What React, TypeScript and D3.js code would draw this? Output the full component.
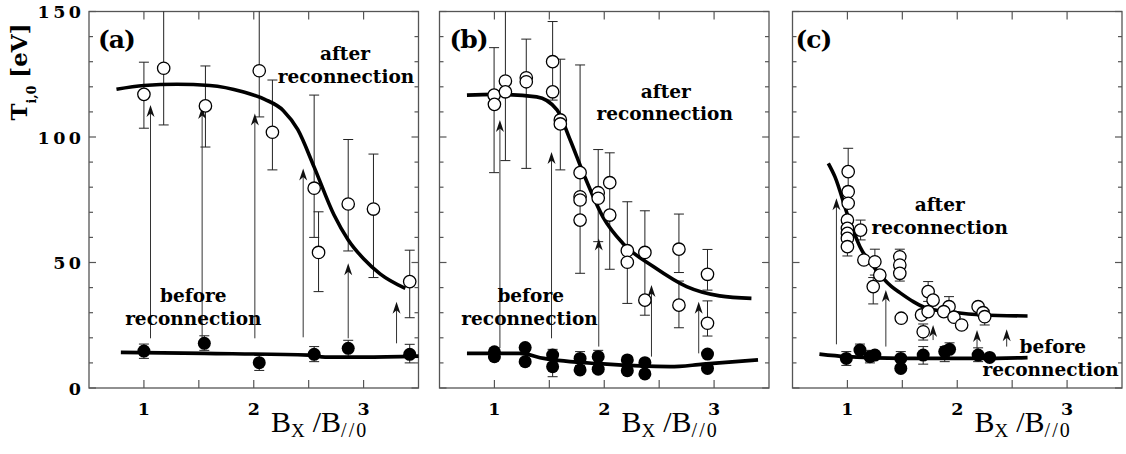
import React, { useEffect, useRef } from 'react';
import * as d3 from 'd3';

// [x, T, errLo, errHi] -- error bounds optional
const aAfter = [
  [1.0, 117, 103.5, 129.8],
  [1.18, 127.4, 104.8, 150],
  [1.56, 112.4, 96, 128.3],
  [2.05, 126.4, 108, 150],
  [2.17, 101.9, 86.9, 122.7],
  [2.55, 79.6, 60, 116.7],
  [2.59, 54, 38.4, 70.2],
  [2.86, 73.3, 54.6, 99],
  [3.09, 71.3, 44, 93.2],
  [3.42, 42.4, 28, 54.9],
];
const aBefore = [
  [1.0, 14.7, 11.8, 17.5],
  [1.55, 17.8, 15, 20.8],
  [2.05, 10.1, 7, 13],
  [2.55, 13.4, 10.5, 16.5],
  [2.86, 15.8, 12.5, 19],
  [3.42, 13.4, 10, 17.4],
];
// [x, from, to]
const aArrows = [
  [1.06, 19.8, 112.7],
  [1.53, 19.8, 112],
  [2.01, 19.8, 109.4],
  [2.45, 20.2, 87.5],
  [2.86, 19.8, 49.7],
  [3.3, 17.8, 34.4],
];
const aAfterFit = [
  [0.75, 119], [1.0, 120.5], [1.3, 121], [1.6, 120.5], [1.9, 118], [2.1, 115],
  [2.27, 110.5], [2.4, 103], [2.55, 88], [2.73, 69], [2.86, 59], [3.0, 51.5],
  [3.15, 45.5], [3.38, 39.7],
];
const aBeforeFit = [[0.79, 14.2], [1.55, 13.8], [2.5, 13.1], [2.65, 12.3], [3.0, 12.3], [3.5, 12.7]];

const bAfter = [
  [0.997, 116.7, 85.8, 135.6],
  [1.0, 113],
  [1.1, 122.3, 90.6, 150],
  [1.1, 118],
  [1.29, 123.6, 87.5, 139],
  [1.29, 122],
  [1.53, 130, 114.7, 146],
  [1.53, 118],
  [1.6, 106.8, 86.9, 131],
  [1.6, 105.2],
  [1.78, 85.8, 45.7, 128.7],
  [1.78, 76.2],
  [1.78, 74.9],
  [1.78, 66.9],
  [1.945, 77.8, 58.3, 95],
  [1.945, 75.6],
  [2.05, 81.8],
  [2.05, 68.9, 47.3, 93.7],
  [2.21, 54.7, 33.7, 74.2],
  [2.21, 50.1],
  [2.37, 54, 29, 70.6],
  [2.37, 35],
  [2.68, 55.3, 46, 69.3],
  [2.68, 33, 24, 42.6],
  [2.94, 45.3, 39, 55.2],
  [2.94, 25.8, 20.7, 34.7],
];
const bBefore = [
  [1.0, 14.4], [1.0, 12.5], [1.28, 16.1], [1.28, 10.5],
  [1.53, 13.1, 10, 15.4], [1.53, 8.5, 4.5, 11],
  [1.78, 11.8, 9, 14.5], [1.78, 7.2], [1.945, 12.5, 10, 15], [1.945, 7.5],
  [2.21, 11.2], [2.21, 6.9], [2.37, 10.1], [2.37, 5.6], [2.94, 13.5], [2.94, 7.8],
];
const bArrows = [
  [1.05, 15.9, 106.8],
  [1.52, 19.8, 94],
  [1.95, 16.5, 59.6],
  [2.43, 12.5, 41],
  [2.86, 13.8, 34.4],
];
const bAfterFit = [
  [0.75, 116.7], [1.0, 117], [1.385, 116], [1.57, 110.8], [1.69, 98.8], [1.81, 85.5],
  [1.99, 68], [2.17, 57.6], [2.45, 48.3], [2.75, 40.4], [3.05, 36.7], [3.34, 35.7],
];
const bBeforeFit = [[0.75, 13.8], [1.23, 13.8], [1.45, 11.8], [1.99, 9.6], [2.6, 8.5], [2.9, 9.5], [3.4, 11.2]];

const cAfter = [
  [1.007, 86.2, 80, 95.5],
  [1.007, 78.2],
  [1.007, 73.6],
  [1.0, 66.9],
  [1.0, 63.6],
  [1.0, 61.6],
  [1.0, 59.6],
  [1.0, 56.3, 52.6, 60],
  [1.12, 62.9, 59, 66.9],
  [1.15, 51],
  [1.25, 50.3, 45, 55.3],
  [1.295, 45],
  [1.235, 40.4, 33.5, 44],
  [1.477, 52.3, 49, 55.3],
  [1.477, 49],
  [1.477, 45.7, 42.6, 49],
  [1.735, 38.4, 34.5, 42.4],
  [1.78, 35],
  [1.675, 29.1],
  [1.735, 30.4],
  [1.49, 27.8],
  [1.69, 22.4, 19.1, 25.5],
  [1.925, 32.4, 28.5, 36.4],
  [1.877, 30.4],
  [1.97, 28.2],
  [2.04, 25.1],
  [2.19, 32.4],
  [2.235, 30],
  [2.25, 28.4, 25.1, 31],
];
const cBefore = [
  [0.99, 11.8, 9, 14.5], [1.114, 15.1, 12, 17.5], [1.205, 12.5, 10, 15], [1.25, 13.1],
  [1.486, 11.8, 9, 14.5], [1.486, 7.8], [1.69, 13.1, 9.5, 16.5], [1.886, 14.5, 10.5, 16.5],
  [1.93, 15.4, 12, 18], [2.19, 13.1, 10.5, 16], [2.295, 12.2],
];
const cArrows = [
  [0.9, 17.4, 75.6],
  [1.35, 16.5, 39],
  [1.78, 19.1, 25.1],
  [2.18, 15.1, 23.1],
  [2.45, 16.5, 23.4],
];
const cAfterFit = [
  [0.826, 89.5], [0.886, 84.2], [1.007, 68.2], [1.114, 56.3], [1.25, 47.7], [1.4, 40.5],
  [1.477, 38], [1.6, 34.4], [1.72, 31.8], [1.93, 30.4], [2.23, 29.1], [2.64, 28.7],
];
const cBeforeFit = [[0.745, 13.5], [0.99, 12.5], [1.5, 11.8], [2.2, 11.8], [2.64, 12.1]];

const yMajor = [0, 50, 100, 150];
const yMinor = d3.range(0, 151, 10);
const xTicks = [1, 1.5, 2, 2.5, 3];
const xLabels = [1, 2, 3];

const panels = [
  {
    tag: '(a)', tagDx: 9, after: aAfter, before: aBefore, arrows: aArrows,
    afterFit: aAfterFit, beforeFit: aBeforeFit,
    labels: [
      { t: 'after', x: 2.83, y: 130.7 }, { t: 'reconnection', x: 2.84, y: 121.4 },
      { t: 'before', x: 1.45, y: 34.4 }, { t: 'reconnection', x: 1.45, y: 25.1 },
    ],
  },
  {
    tag: '(b)', tagDx: 10, after: bAfter, before: bBefore, arrows: bArrows,
    afterFit: bAfterFit, beforeFit: bBeforeFit,
    labels: [
      { t: 'after', x: 2.56, y: 115.4 }, { t: 'reconnection', x: 2.55, y: 106.8 },
      { t: 'before', x: 1.33, y: 34.4 }, { t: 'reconnection', x: 1.32, y: 25.1 },
    ],
  },
  {
    tag: '(c)', tagDx: 3, after: cAfter, before: cBefore, arrows: cArrows,
    afterFit: cAfterFit, beforeFit: cBeforeFit,
    labels: [
      { t: 'after', x: 1.84, y: 70.5 }, { t: 'reconnection', x: 1.84, y: 61.3 },
      { t: 'before', x: 2.87, y: 14.1 }, { t: 'reconnection', x: 2.85, y: 4.8 },
    ],
  },
];

const W = 1126;
const H = 454;
const TOP = 11.5;
const BOTTOM = 388;
const PANEL_LEFT = [89, 439.5, 792.5];
const PANEL_W = 329.5;
const SERIF = "'DejaVu Serif', serif";

export default function App() {
  const svgRef = useRef(null);

  useEffect(() => {
    const svg = d3.select(svgRef.current);
    svg.selectAll('*').remove();

    const y = d3.scaleLinear().domain([0, 150]).range([BOTTOM, TOP]);

    // y-axis title
    const yt = svg.append('text')
      .attr('transform', `translate(27,72) rotate(-90)`)
      .attr('text-anchor', 'middle')
      .style('font-family', SERIF)
      .style('font-weight', 'bold')
      .style('font-size', '23px');
    yt.append('tspan').text('T');
    yt.append('tspan').attr('dy', 9).style('font-size', '12.5px').text('i,0');
    yt.append('tspan').attr('dy', -9).text('\u00a0[eV]');

    panels.forEach((p, pi) => {
      const left = PANEL_LEFT[pi];
      const x = d3.scaleLinear().domain([0.5, 3.5]).range([left, left + PANEL_W]);
      const g = svg.append('g');

      // frame
      g.append('rect')
        .attr('x', left).attr('y', TOP)
        .attr('width', PANEL_W).attr('height', BOTTOM - TOP)
        .attr('fill', 'none').attr('stroke', '#555').attr('stroke-width', 1.3);

      // inward ticks on all four sides
      const tk = g.append('g').attr('stroke', '#555').attr('stroke-width', 1.2);
      xTicks.forEach((t) => {
        tk.append('line').attr('x1', x(t)).attr('x2', x(t)).attr('y1', BOTTOM).attr('y2', BOTTOM - 8);
        tk.append('line').attr('x1', x(t)).attr('x2', x(t)).attr('y1', TOP).attr('y2', TOP + 8);
      });
      yMinor.forEach((t) => {
        const len = yMajor.includes(t) ? 7 : 4;
        tk.append('line').attr('x1', left).attr('x2', left + len).attr('y1', y(t)).attr('y2', y(t));
        tk.append('line').attr('x1', left + PANEL_W).attr('x2', left + PANEL_W - len).attr('y1', y(t)).attr('y2', y(t));
      });

      // tick labels
      xLabels.forEach((t) => {
        g.append('text')
          .attr('x', x(t)).attr('y', 414.5)
          .attr('text-anchor', 'middle')
          .style('font-family', SERIF).style('font-weight', 'bold').style('font-size', '17.5px')
          .text(t);
      });
      if (pi === 0) {
        yMajor.forEach((t) => {
          g.append('text')
            .attr('x', left - 4.5).attr('y', y(t) + 6.5)
            .attr('text-anchor', 'end')
            .style('font-family', SERIF).style('font-weight', 'bold').style('font-size', '17.5px')
            .style('letter-spacing', '3.5px')
            .text(t);
        });
      }

      // x-axis title
      const xt = g.append('text')
        .attr('x', left + 182).attr('y', 432)
        .style('font-family', "'Liberation Serif', serif")
        .style('font-size', '30px');
      xt.append('tspan').text('B');
      xt.append('tspan').attr('dy', 5).style('font-size', '19px').text('X');
      xt.append('tspan').attr('dy', -5).attr('dx', 8).text('/B');
      xt.append('tspan').attr('dy', 5).style('font-size', '20px').style('letter-spacing', '2px').text('//0');

      // panel tag
      g.append('text')
        .attr('x', left + p.tagDx).attr('y', 48)
        .style('font-family', SERIF).style('font-weight', 'bold').style('font-size', '25px')
        .style('letter-spacing', '-1px')
        .text(p.tag);

      // error bars
      const eb = g.append('g').attr('stroke', '#222').attr('stroke-width', 1);
      [...p.after, ...p.before].forEach((d) => {
        if (d.length < 4) return;
        const cx = x(d[0]);
        eb.append('line').attr('x1', cx).attr('x2', cx).attr('y1', y(d[2])).attr('y2', y(d[3]));
        [d[2], d[3]].forEach((v) => {
          if (v >= 150) return;
          eb.append('line').attr('x1', cx - 5).attr('x2', cx + 5).attr('y1', y(v)).attr('y2', y(v));
        });
      });

      // arrows from before to after
      const ar = g.append('g');
      p.arrows.forEach((d) => {
        const ax = x(d[0]);
        const y0 = y(d[1]);
        const y1 = y(d[2]);
        ar.append('line').attr('x1', ax).attr('x2', ax).attr('y1', y0).attr('y2', y1 + 6)
          .attr('stroke', '#333').attr('stroke-width', 1);
        ar.append('path')
          .attr('d', `M${ax},${y1} L${ax - 4},${y1 + 12} L${ax},${y1 + 8.5} L${ax + 4},${y1 + 12} Z`)
          .attr('fill', '#111');
      });

      // fitted curves
      const line = d3.line().x((d) => x(d[0])).y((d) => y(d[1])).curve(d3.curveMonotoneX);
      [p.afterFit, p.beforeFit].forEach((c) => {
        g.append('path').attr('d', line(c)).attr('fill', 'none')
          .attr('stroke', '#000').attr('stroke-width', 3.6);
      });

      // points
      p.after.forEach((d) => {
        g.append('circle').attr('cx', x(d[0])).attr('cy', y(d[1])).attr('r', 6.2)
          .attr('fill', '#fff').attr('stroke', '#000').attr('stroke-width', 1.3);
      });
      p.before.forEach((d) => {
        g.append('circle').attr('cx', x(d[0])).attr('cy', y(d[1])).attr('r', 6.5).attr('fill', '#000');
      });

      // annotations
      p.labels.forEach((l) => {
        g.append('text')
          .attr('x', x(l.x)).attr('y', y(l.y))
          .attr('text-anchor', 'middle')
          .style('font-family', SERIF).style('font-weight', 'bold').style('font-size', '18.5px')
          .text(l.t);
      });
    });
  }, []);

  return (
    <svg
      ref={svgRef}
      width={W}
      height={H}
      style={{ position: 'absolute', left: 0, top: 0, background: '#fff' }}
    />
  );
}
